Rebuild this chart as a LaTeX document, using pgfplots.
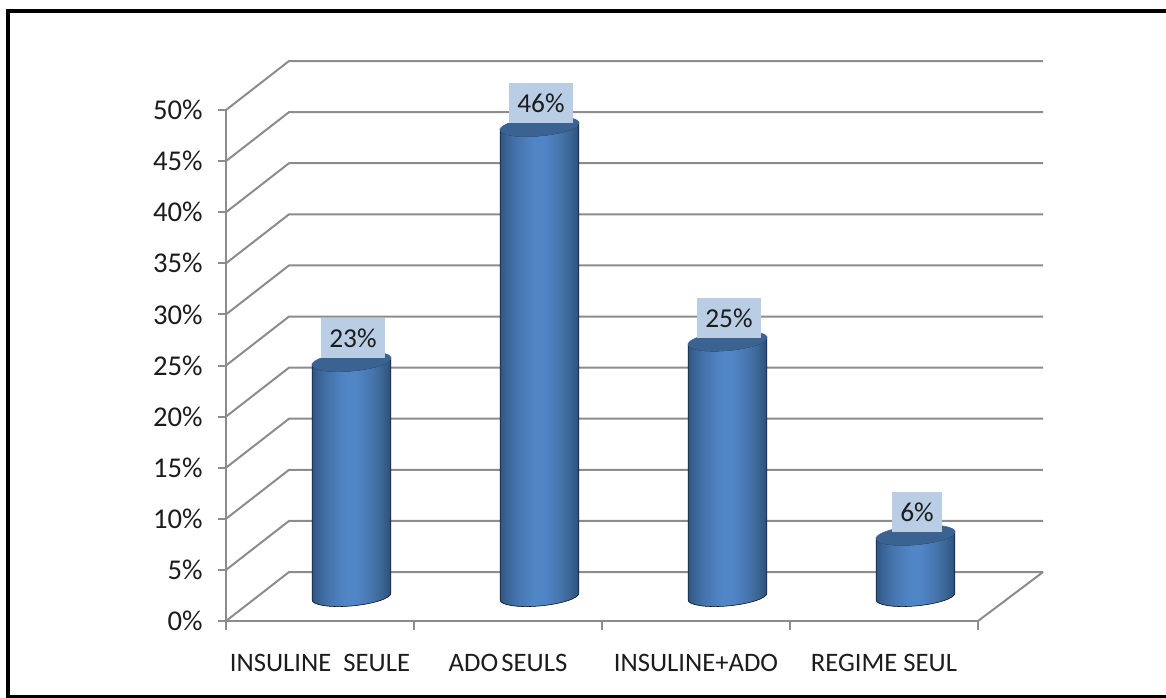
\documentclass[border=0pt]{standalone}
\usepackage{fontspec}
\usepackage{pgfplots}
\usepackage{pgfplotstable}
\pgfplotsset{compat=1.18}
\setmainfont{Carlito}
\definecolor{gridgray}{HTML}{8C8C8C}
\definecolor{labelbox}{HTML}{B9CDE5}
\definecolor{capblue}{HTML}{3A6392}
\definecolor{edgeL}{HTML}{2F5583}
\definecolor{edgeR}{HTML}{2C4F7C}
\definecolor{stepA}{HTML}{3A6496}
\definecolor{stepB}{HTML}{4675AE}
\definecolor{midblue}{HTML}{5085C6}
\definecolor{stepC}{HTML}{4877B0}
\definecolor{stepD}{HTML}{3B6595}
\definecolor{textgray}{HTML}{1C1C1C}
% Side of a cylinder: dark at both edges, brightest just left of the middle
\pgfdeclarehorizontalshading{cylinderbody}{100bp}{
  color(0bp)=(edgeL); color(25bp)=(edgeL); color(29bp)=(stepA);
  color(36bp)=(stepB); color(46bp)=(midblue); color(53bp)=(midblue);
  color(62bp)=(stepC); color(69bp)=(stepD); color(75bp)=(edgeR); color(100bp)=(edgeR)}
\pgfdeclareplotmark{blank}{}
\newcommand{\chartfont}{\fontsize{20}{23}\selectfont\color{textgray}}
\pgfplotstableread{
x y
0 23
1 46
2 25
3 6
}\traitements
% Scatter marker that draws one cylinder below its data point, on the mid-depth plane.
% The ellipses are tilted, so they are written out as Bezier segments.
\pgfplotsset{
  cylinder bars/.style={
    scatter, only marks, mark=blank, point meta=y,
    visualization depends on={y \as \barval},
    scatter/@pre marker code/.code={%
      \pgfmathsetmacro\barh{\barval*7.665}%
      \shade[shading=cylinderbody]
        (-5.975pt,{15.829pt-\barh pt})
        .. controls (-5.975pt,{11.908pt-\barh pt}) and (7.277pt,{9.869pt-\barh pt}) .. (23.625pt,{11.275pt-\barh pt})
        .. controls (39.973pt,{12.681pt-\barh pt}) and (53.225pt,{17pt-\barh pt}) .. (53.225pt,{20.921pt-\barh pt})
        -- (53.225pt,20.921pt)
        .. controls (53.225pt,17pt) and (39.973pt,12.681pt) .. (23.625pt,11.275pt)
        .. controls (7.277pt,9.869pt) and (-5.975pt,11.908pt) .. (-5.975pt,15.829pt)
        -- cycle;
      \fill[capblue]
        (-5.975pt,15.829pt)
        .. controls (-5.975pt,11.908pt) and (7.277pt,9.869pt) .. (23.625pt,11.275pt)
        .. controls (39.973pt,12.681pt) and (53.225pt,17pt) .. (53.225pt,20.921pt)
        .. controls (53.225pt,24.842pt) and (39.973pt,26.881pt) .. (23.625pt,25.475pt)
        .. controls (7.277pt,24.069pt) and (-5.975pt,19.75pt) .. (-5.975pt,15.829pt)
        -- cycle;
    },
    scatter/@post marker code/.code={},
  },
}
\begin{document}
\begin{tikzpicture}[x=0.75pt,y=0.75pt]
\path[use as bounding box] (0,0) rectangle (1166,-698);
\begin{axis}[
  at={(169.5pt,-465.75pt)}, anchor=south west,
  scale only axis, width=564pt, height=383.25pt,
  xmin=-0.5, xmax=3.5, ymin=0, ymax=50,
  clip=false,
  axis x line=bottom, axis y line=left,
  axis line style={-, gridgray, line width=1.5pt},
  tick align=outside,
  xtick={0,1,2,3},
  xticklabels={INSULINE\ \ SEULE, ADO\kern.12em SEULS, INSULINE+ADO, REGIME SEUL},
  minor xtick={-0.5,0.5,1.5,2.5,3.5},
  major x tick style={draw=none},
  minor x tick style={gridgray, line width=1.5pt},
  minor tick length=6.75pt,
  ytick={0,5,...,50},
  y tick style={gridgray, line width=1.5pt},
  major tick length=6pt,
  yticklabel={\pgfmathprintnumber{\tick}\%},
  /pgf/number format/assume math mode=true,
  tick label style={font=\chartfont},
  x tick label style={yshift=-15pt},
  y tick label style={xshift=-8pt,font=\fontsize{21.5}{24}\selectfont\color{textgray}},
]
% Side wall and back wall of the 3-D box
\addplot[gridgray, line width=1.5pt, forget plot] table {
x y
-0.5 0
-0.165 4.79
3.846 4.79

-0.5 5
-0.165 9.79
3.846 9.79

-0.5 10
-0.165 14.79
3.846 14.79

-0.5 15
-0.165 19.79
3.846 19.79

-0.5 20
-0.165 24.79
3.846 24.79

-0.5 25
-0.165 29.79
3.846 29.79

-0.5 30
-0.165 34.79
3.846 34.79

-0.5 35
-0.165 39.79
3.846 39.79

-0.5 40
-0.165 44.79
3.846 44.79

-0.5 45
-0.165 49.79
3.846 49.79

-0.5 50
-0.165 54.79
3.846 54.79
};
\addplot[gridgray, line width=1.5pt, forget plot] coordinates {(3.5,0) (3.846,4.79)};
% Cylinders
\addplot[cylinder bars] table {\traitements};
% Value labels
\addplot[only marks, mark=blank, point meta=y,
  nodes near coords={\pgfmathprintnumber{\pgfplotspointmeta}\%},
  every node near coord/.style={
    anchor=center, fill=labelbox, font=\fontsize{20.5}{23}\selectfont\color{textgray},
    inner xsep=6pt, inner ysep=0pt, minimum height=30pt,
    xshift=24.75pt, yshift=35.6pt},
] table {\traitements};
\end{axis}
% Outer frame, open on the right
\draw[black, line width=2.7pt] (1166,-11) -- (8,-11) -- (8,-696.7) -- (1166,-696.7);
\end{tikzpicture}
\end{document}
